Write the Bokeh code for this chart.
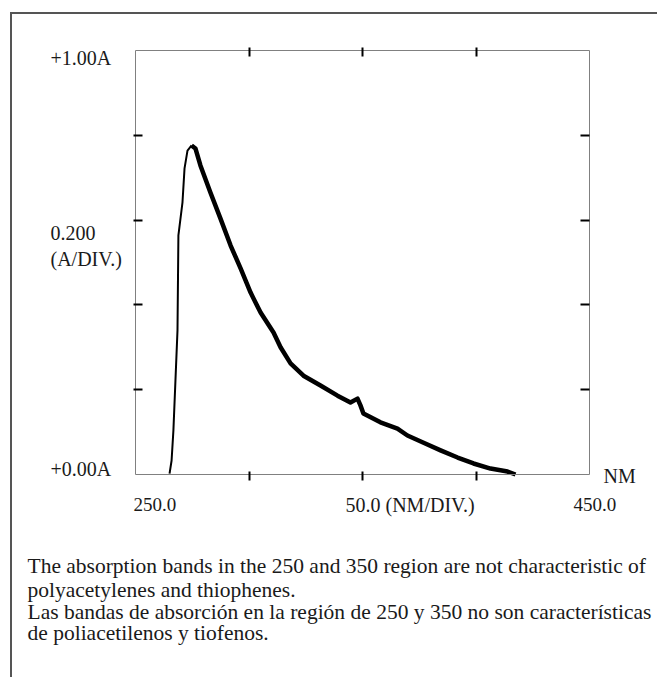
from bokeh.plotting import figure
from bokeh.models import Range1d, LinearAxis, FixedTicker, Label
from bokeh.embed import file_html
from bokeh.resources import INLINE

# ---- data ----
rise_nm = [265.0, 265.9, 266.7, 267.6, 268.5, 268.9, 270.7, 271.6, 272.9, 274.7]
rise_abs = [0.002, 0.033, 0.104, 0.222, 0.340, 0.564, 0.642, 0.722, 0.764, 0.776]

fall_nm = [274.7, 276.4, 278.6, 283.0, 287.4, 291.9, 296.3, 300.7, 305.1, 310.8,
           313.9, 318.3, 324.0, 331.5, 339.0, 344.7, 347.8, 349.1, 350.4, 357.9,
           365.4, 369.8, 376.9, 384.4, 391.9, 398.9, 406.4, 413.9, 417.4]
fall_abs = [0.776, 0.769, 0.729, 0.665, 0.604, 0.540, 0.486, 0.429, 0.382, 0.335,
            0.300, 0.262, 0.233, 0.210, 0.186, 0.170, 0.179, 0.163, 0.144, 0.123,
            0.108, 0.092, 0.075, 0.057, 0.040, 0.026, 0.014, 0.007, 0.000]

x_ticks = [300, 350, 400]
y_ticks = [0.2, 0.4, 0.6, 0.8]
x_min, x_max = 250, 450
y_min, y_max = 0.0, 1.0

y_top_label = "+1.00A"
y_mid_labels = ["0.200", "(A/DIV.)"]
y_bottom_label = "+0.00A"
x_left_label = "250.0"
x_mid_label = "50.0 (NM/DIV.)"
x_right_label = "450.0"
x_unit_label = "NM"

caption_lines = [
    "The absorption bands in the 250 and 350 region are not characteristic of",
    "polyacetylenes and thiophenes.",
    "Las bandas de absorción en la región de 250 y 350 no son características",
    "de poliacetilenos y tiofenos.",
]

# ---- layout (pixels) ----
FONT = "Liberation Serif"
AXIS_GREY = "#808080"
W, H = 647, 665                 # canvas size (after 12px / 14px CSS offset)
PL, PR, PT, PB = 123, 577, 36, 460   # plot box edges inside the canvas
sx = (PR - PL) / (x_max - x_min)
sy = (PB - PT) / (y_max - y_min)
xr = Range1d(x_min - PL / sx, x_max + (W - PR) / sx)
yr = Range1d(y_min - (H - PB) / sy, y_max + PT / sy)

p = figure(width=W, height=H, output_backend="svg", toolbar_location=None,
           x_range=xr, y_range=yr, x_axis_location=None, y_axis_location=None,
           min_border=0)
p.styles = {"margin-left": "10px", "margin-top": "12px",
            "border-left": "2px solid #555555", "border-top": "2px solid #555555"}
p.outline_line_color = None
p.xgrid.visible = False
p.ygrid.visible = False
p.background_fill_color = "white"
p.border_fill_color = "white"

def make_axis(ticks, tin, tout, loc, bounds):
    ax = LinearAxis(ticker=FixedTicker(ticks=ticks), fixed_location=loc, bounds=bounds)
    ax.axis_line_color = AXIS_GREY
    ax.axis_line_width = 1
    ax.major_tick_line_color = "black"
    ax.major_tick_line_width = 2
    ax.major_tick_in = tin
    ax.major_tick_out = tout
    ax.minor_tick_line_color = None
    ax.major_label_text_font_size = "0px"
    ax.major_label_text_color = None
    return ax

p.add_layout(make_axis(x_ticks, 3, 6, y_min, (x_min, x_max)), "below")
p.add_layout(make_axis(x_ticks, 6, 3, y_max, (x_min, x_max)), "above")
p.add_layout(make_axis(y_ticks, 7, 2, x_min, (y_min, y_max)), "left")
p.add_layout(make_axis(y_ticks, 9, 0, x_max, (y_min, y_max)), "right")

p.line(rise_nm, rise_abs, line_color="black", line_width=2, line_join="round")
p.line(fall_nm, fall_abs, line_color="black", line_width=4.5, line_join="round")

def lab(text, x, y, xo, yo, size):
    p.add_layout(Label(x=x, y=y, x_offset=xo, y_offset=yo, text=text,
                       text_font=FONT, text_font_size=size, text_color="#1a1a1a",
                       text_baseline="alphabetic", text_align="left"))

lab_size = "20px"
lab(y_top_label, x_min, y_max, -85, -7, lab_size)
lab(y_mid_labels[0], x_min, y_max, -85, -182, lab_size)
lab(y_mid_labels[1], x_min, y_max, -85, -208, lab_size)
lab(y_bottom_label, x_min, y_min, -85, 6, lab_size)
lab(x_left_label, x_min, y_min, -2, -30, "19px")
lab(x_mid_label, x_min, y_min, 210, -30, lab_size)
lab(x_right_label, x_max, y_min, -16, -30, "19px")
lab(x_unit_label, x_max, y_min, 14, -1, lab_size)

cap_offsets = [-91, -115, -137, -158]
for t, yo in zip(caption_lines, cap_offsets):
    lab(t, x_min, y_min, -108, yo, "21.5px")

open("out.html", "w").write(file_html(p, INLINE))
